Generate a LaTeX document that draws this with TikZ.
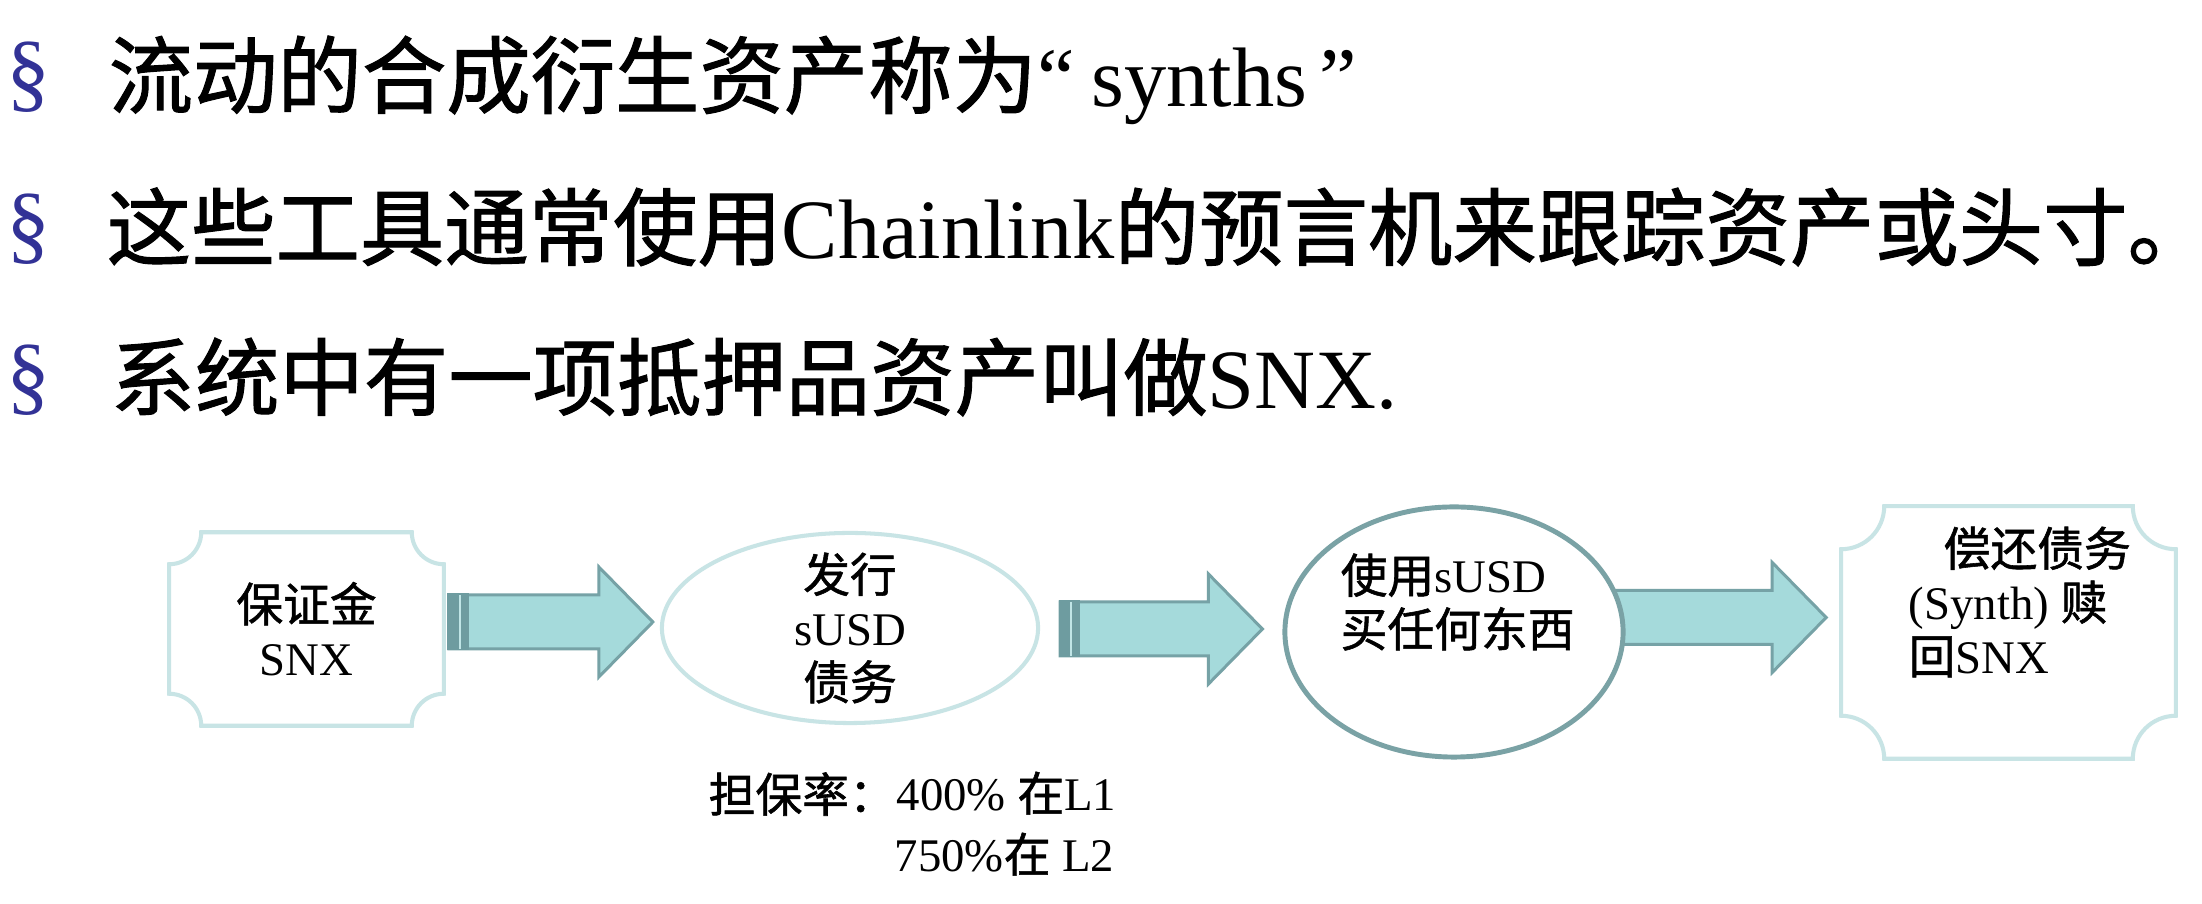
\documentclass[tikz,border=0pt]{standalone}
\usepackage{fontspec}
\setmainfont{Liberation Serif}
\newfontfamily\cjk[FakeBold=1.2]{Noto Sans CJK SC}
\usetikzlibrary{calc,shapes.geometric}
\definecolor{boxline}{RGB}{200,228,229}
\definecolor{circline}{RGB}{122,162,165}
\definecolor{arrfill}{RGB}{165,218,219}
\definecolor{arrline}{RGB}{118,162,166}
\definecolor{arrstub}{RGB}{110,156,160}
\definecolor{bulletblue}{RGB}{50,50,150}
\pgfdeclarelayer{bg}
\pgfsetlayers{bg,main}
\newcommand{\plaquepath}[2]{%
 \draw[plaqueline] ($(#1.north west)+(#2,0)$) -- ($(#1.north east)+(-#2,0)$)
 .. controls ($(#1.north east)+(-#2,0.552*#2)$) and ($(#1.north east)+(-0.552*#2,#2)$) .. ($(#1.north east)+(0,#2)$)
 -- ($(#1.south east)+(0,-#2)$)
 .. controls ($(#1.south east)+(-0.552*#2,-#2)$) and ($(#1.south east)+(-#2,-0.552*#2)$) .. ($(#1.south east)+(-#2,0)$)
 -- ($(#1.south west)+(#2,0)$)
 .. controls ($(#1.south west)+(#2,-0.552*#2)$) and ($(#1.south west)+(0.552*#2,-#2)$) .. ($(#1.south west)+(0,-#2)$)
 -- ($(#1.north west)+(0,#2)$)
 .. controls ($(#1.north west)+(0.552*#2,#2)$) and ($(#1.north west)+(#2,0.552*#2)$) .. ($(#1.north west)+(#2,0)$)
 -- cycle;}
\newcommand{\flowarrow}[3]{% start, tip, stub?
 \draw[arrowbody] ($(#1)+(0,-27)$) -- ($(#2)+(-54,-27)$) -- ($(#2)+(-54,-55)$) -- (#2)
   -- ($(#2)+(-54,55)$) -- ($(#2)+(-54,27)$) -- ($(#1)+(0,27)$) -- cycle;
 \ifnum#3=1
 \fill[arrstub] ($(#1)+(-1.5,-28.5)$) rectangle ($(#1)+(20,28.5)$);
 \draw[arrfill!70!white, line width=0.5pt] ($(#1)+(11,-27)$) -- ($(#1)+(11,27)$);
 \fi}
\tikzset{
 plaqueline/.style={draw=boxline, line width=1.15pt},
 arrowbody/.style={draw=arrline, fill=arrfill, line width=0.85pt, line join=miter},
 txt/.style={font=\fontsize{13.3}{15.3}\selectfont, inner sep=0pt, text=black},
 big/.style={font=\fontsize{24}{28}\selectfont, inner sep=0pt, text=black},
 bul/.style={font=\fontsize{25}{28}\selectfont, inner sep=0pt, text=bulletblue},
 holder/.style={rectangle, draw=none, inner sep=0pt},
}
\begin{document}
\begin{tikzpicture}[x=0.01cm,y=-0.01cm]
\begin{pgfonlayer}{bg}
\fill[white] (0,0) rectangle (2202,904);
\end{pgfonlayer}
\useasboundingbox (0,0) rectangle (2202,904);

% bullet lines
\node[bul] (s1) at (28,77) {§};
\node[bul] (s2) at (28,229) {§};
\node[bul] (s3) at (28,380) {§};
\node[big, anchor=base west] (l1) at (108,107) {{\cjk 流动的合成衍生资产称为}“\hspace{0.2em}synths\hspace{0.15em}”};
\node[big, anchor=base west] (l2) at (106,259) {{\cjk 这些工具通常使用}Chainlink{\cjk 的预言机来跟踪资产或头寸}\makebox[0.45em][l]{\cjk 。}};
\node[big, anchor=base west] (l3) at (110,409) {{\cjk 系统中有一项抵押品资产叫做}SNX.};

% diagram shapes
\node[holder, minimum width=2.73cm, minimum height=1.92cm] (b1) at (306.5,629) {};
\plaquepath{b1}{32}
\node[txt, align=center] (b1t) at (b1.center) {{\cjk 保证金}\\SNX};

\node[ellipse, draw=boxline, line width=1.15pt, minimum width=3.76cm, minimum height=1.90cm, inner sep=0pt] (e1) at (850,628) {};
\node[txt, align=center] (e1t) at (e1.center) {{\cjk 发行}\\sUSD\\{\cjk 债务}};

\node[ellipse, draw=circline, fill=white, line width=1.4pt, minimum width=3.38cm, minimum height=2.50cm, inner sep=0pt] (c1) at (1454,632) {};
\node[txt, align=left, anchor=west] (c1t) at (1340,602) {{\cjk 使用}sUSD\\{\cjk 买任何东西}};

\node[holder, minimum width=3.33cm, minimum height=2.51cm] (b4) at (2008.5,632.5) {};
\plaquepath{b4}{43}
\node[txt, align=left, anchor=west] (b4t) at (1908,602) {\hspace*{0.35cm}{\cjk 偿还债务}\\(Synth) {\cjk 赎}\\{\cjk 回}SNX};

% arrows
\coordinate (a1t) at ($(e1.west)+(-7,-6)$);
\coordinate (a1s) at ($(a1t -| b1.east)+(5,0)$);
\coordinate (a2t) at ($(c1.west)+(-20,-3)$);
\coordinate (a2s) at ($(a2t -| e1.east)+(20,0)$);
\coordinate (a3t) at ($(b4.west)+(-15,-15)$);
\coordinate (a3s) at ($(a3t -| c1.east)+(-30,0)$);
\begin{pgfonlayer}{bg}
\flowarrow{a1s}{a1t}{1}
\flowarrow{a2s}{a2t}{1}
\flowarrow{a3s}{a3t}{0}
\end{pgfonlayer}

% collateral ratio
\node[txt, anchor=base west] (cr) at (708,812) {{\cjk 担保率：}};
\node[txt, anchor=base west] (cr1) at (896,811) {400\% {\cjk 在}L1};
\node[txt, anchor=base west] (cr2) at (894,872) {750\%{\cjk 在} L2};
\end{tikzpicture}
\end{document}
